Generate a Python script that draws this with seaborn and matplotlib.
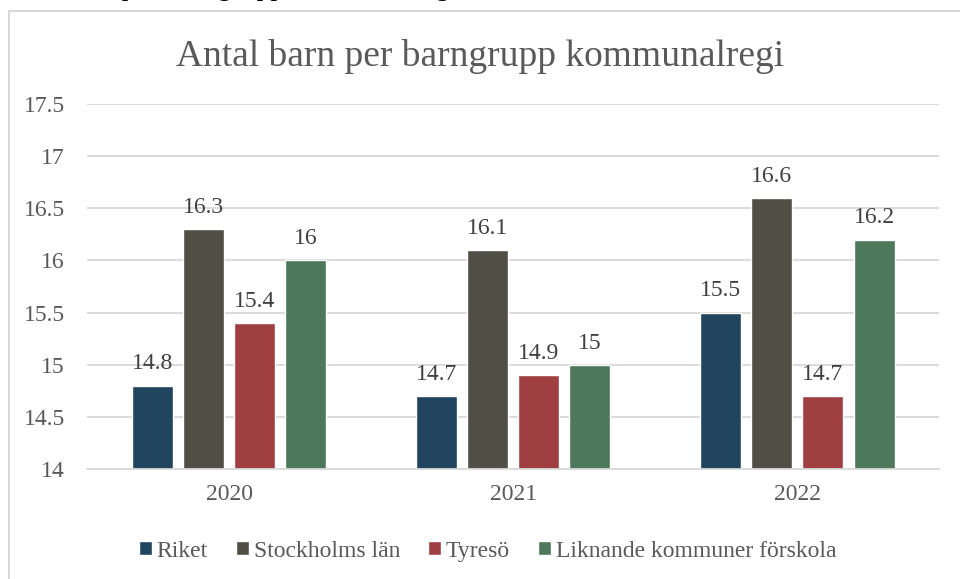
import pandas as pd
import matplotlib.pyplot as plt
import seaborn as sns
from matplotlib.patches import Rectangle

# Data
years = ["2020", "2021", "2022"]
series = ["Riket", "Stockholms län", "Tyresö", "Liknande kommuner förskola"]
riket = [14.8, 14.7, 15.5]
stockholm = [16.3, 16.1, 16.6]
tyreso = [15.4, 14.9, 14.7]
liknande = [16.0, 15.0, 16.2]
colors = ["#21445F", "#4F4F45", "#A03F42", "#4E785B"]

df = pd.DataFrame({
    "År": years * 4,
    "Serie": [s for s in series for _ in years],
    "Värde": riket + stockholm + tyreso + liknande,
})

sns.set_theme(style="white")
plt.rcParams["font.family"] = ["Liberation Serif", "DejaVu Serif"]
serif = ["Liberation Serif", "DejaVu Serif"]

fig = plt.figure(figsize=(9.6, 5.79), dpi=100)
ax = fig.add_axes([0.0906, 0.19, 0.888, 0.6304])

sns.barplot(data=df, x="År", y="Värde", hue="Serie", palette=colors,
            width=0.72, gap=0.2, ax=ax, saturation=1)

ax.set_ylim(14, 17.5)
ax.set_xlim(-0.5, 2.5)
ax.set_yticks([14, 14.5, 15, 15.5, 16, 16.5, 17, 17.5])
ax.set_yticklabels(["14", "14.5", "15", "15.5", "16", "16.5", "17", "17.5"],
                   family=serif)
ax.set_xticks(range(len(years)))
ax.set_xticklabels(years, family=serif)
ax.yaxis.grid(True, color="#D9D9D9", lw=1.3)
ax.set_axisbelow(True)
for side in ["top", "right", "left"]:
    ax.spines[side].set_visible(False)
ax.spines["bottom"].set_color("#D9D9D9")
ax.spines["bottom"].set_linewidth(1.3)
ax.tick_params(axis="both", length=0, labelsize=17, labelcolor="#595959")
ax.tick_params(axis="x", pad=11)
ax.tick_params(axis="y", pad=16)
ax.set_xlabel("")
ax.set_ylabel("")

for cont in ax.containers:
    ax.bar_label(cont, labels=[f"{v:g}" for v in cont.datavalues],
                 padding=8, fontsize=17, color="#404040", family=serif)

ax.legend(loc="center", bbox_to_anchor=(0.47, -0.225), ncol=4, frameon=False,
          prop={"family": serif, "size": 17}, handlelength=0.55,
          handleheight=0.55, handletextpad=0.2, columnspacing=1.2,
          labelcolor="#595959")

fig.text(0.5, 0.903, "Antal barn per barngrupp kommunalregi", ha="center",
         va="center", fontsize=27, color="#595959", family=serif)

# chart frame and cut-off caption above it
fig.patches.append(Rectangle((9 / 960, -0.1), 1.2, 1 - 11 / 579 + 0.1,
                             transform=fig.transFigure, fill=False,
                             edgecolor="#D9D9D9", lw=1.5))
fig.text(-0.003, 1.02, "Antal barn per barngrupp kommunal regi", ha="left",
         va="center", fontsize=20, style="italic", color="#000000",
         family=serif)

fig.savefig("out.png", dpi=100)
